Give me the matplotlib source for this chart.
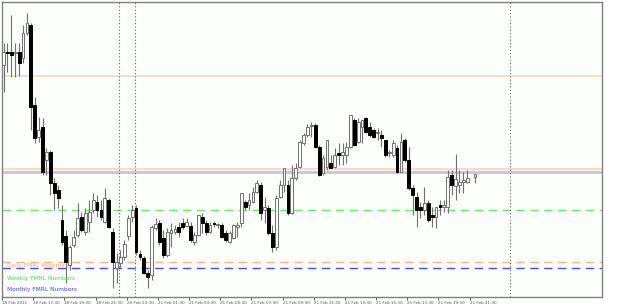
import matplotlib
matplotlib.use("Agg")
import matplotlib.pyplot as plt
from matplotlib.patches import Rectangle

# bar index (one bar missing before the last one)
bars = list(range(120)) + [121]

# OHLC (arbitrary price units)
opens = [235, 248, 248, 247, 248, 242, 267, 275, 195, 163, 173, 140, 148, 117, 110, 80, 64, 35, 55, 65,
         83, 68, 78, 90, 98, 90, 78, 100, 68, 32, 37, 43, 64, 83, 92, 46, 42, 27, 25, 72,
         77, 62, 45, 67, 68, 73, 77, 74, 74, 58, 65, 83, 77, 68, 77, 75, 75, 67, 58, 62,
         73, 77, 98, 95, 98, 108, 115, 90, 92, 67, 53, 103, 115, 115, 87, 122, 133, 157, 165, 174,
         175, 153, 127, 133, 137, 133, 147, 145, 145, 153, 180, 158, 173, 182, 173, 170, 167, 165, 160, 147,
         145, 152, 128, 160, 140, 112, 103, 93, 90, 97, 85, 83, 95, 93, 93, 125, 114, 115, 118, 118,
         123]
highs = [257, 257, 285, 257, 257, 275, 287, 277, 203, 183, 182, 152, 150, 122, 115, 95, 70, 55, 70, 97,
         88, 92, 100, 107, 105, 100, 112, 102, 72, 47, 50, 60, 85, 95, 95, 50, 44, 30, 75, 82,
         80, 70, 72, 77, 75, 78, 82, 82, 78, 68, 85, 87, 80, 78, 79, 77, 77, 70, 69, 76,
         78, 107, 100, 107, 113, 120, 118, 103, 95, 75, 105, 120, 132, 120, 135, 137, 160, 167, 176, 178,
         177, 155, 145, 160, 145, 152, 157, 157, 158, 185, 182, 182, 180, 183, 178, 172, 172, 170, 160, 150,
         160, 155, 167, 162, 153, 115, 108, 98, 113, 100, 93, 93, 100, 100, 130, 130, 146, 130, 128, 130,
         126]
lows = [208, 228, 223, 223, 224, 237, 265, 170, 157, 158, 125, 125, 105, 90, 92, 55, 17, 30, 53, 63,
        68, 65, 68, 87, 83, 80, 77, 72, 12, 17, 33, 40, 60, 78, 45, 40, 26, 12, 20, 70,
        55, 42, 43, 53, 66, 63, 71, 73, 58, 55, 64, 67, 65, 67, 73, 72, 62, 58, 57, 61,
        63, 73, 90, 90, 97, 107, 80, 77, 65, 48, 50, 102, 108, 85, 86, 120, 132, 155, 163, 163,
        152, 124, 125, 130, 132, 132, 135, 135, 137, 152, 154, 157, 157, 167, 163, 162, 160, 153, 143, 143,
        143, 127, 128, 138, 110, 85, 73, 82, 85, 78, 73, 72, 85, 88, 87, 105, 100, 107, 107, 117,
        117]
closes = [248, 247, 245, 248, 237, 267, 277, 193, 162, 170, 128, 148, 117, 107, 102, 58, 38, 53, 63, 82,
          70, 87, 88, 100, 90, 83, 102, 73, 38, 38, 43, 56, 82, 90, 48, 43, 27, 23, 73, 76,
          58, 45, 68, 70, 71, 68, 73, 78, 60, 65, 85, 77, 68, 75, 76.5, 75, 63, 60, 67, 75,
          75, 107, 93, 100, 108, 117, 87, 93, 67, 53, 102, 115, 132, 87, 122, 132, 158, 165, 173, 174,
          153, 125, 142, 160, 132, 145, 145, 148, 153, 185, 155, 178, 180, 168, 165, 163, 167, 162, 145, 147,
          157, 128, 158, 140, 112, 105, 90, 90, 97, 80, 83, 93, 93, 95, 123, 115, 121, 118, 120, 122,
          126]

# indicator levels
levels = [
    (224, '#fbd3c0', '-', 1.2),    # upper daily level
    (131, '#fbd3c0', '-', 1.2),
    (128, '#c8c8c8', '-', 2.0),    # bid line
    (90, '#66ee66', (0, (6, 4)), 1.0),   # weekly
    (38, '#ffb088', (0, (6, 4)), 1.0),   # daily
    (32, '#4848ff', (0, (6, 4)), 1.0),   # monthly
]
separators = [29.74, 33.85, 130.0]

tick_pos = [8 * k - 0.4 for k in range(16)]
tick_labels = ['18 Feb 2011', '18 Feb 17:30', '18 Feb 19:30', '18 Feb 21:30', '20 Feb 23:30',
               '21 Feb 01:30', '21 Feb 03:30', '21 Feb 05:30', '21 Feb 07:30', '21 Feb 09:30',
               '21 Feb 11:30', '21 Feb 13:30', '21 Feb 15:30', '21 Feb 17:30', '21 Feb 19:30',
               '21 Feb 21:30']

fig = plt.figure(figsize=(6.25, 3.07), dpi=100)
fig.patch.set_facecolor('white')
ax = fig.add_axes([2 / 625, 10 / 307, 600 / 625, 295 / 307])
ax.set_facecolor('#fcfefc')

for price, col, ls, lw in levels:
    ax.axhline(price, color=col, linestyle=ls, linewidth=lw, zorder=1)

for s in separators:
    ax.axvline(s, color='#606060', linestyle=(0, (1, 2)), linewidth=0.8, zorder=1)

w = 0.72
for b, o, h, l, c in zip(bars, opens, highs, lows, closes):
    ax.vlines(b, l, h, color='#707070', linewidth=0.8, zorder=2)
    if c >= o:
        ax.add_patch(Rectangle((b - w / 2, o), w, max(c - o, 0.6), facecolor='white',
                               edgecolor='#707070', linewidth=0.7, zorder=3))
    else:
        ax.add_patch(Rectangle((b - w / 2, c), w, o - c, facecolor='black',
                               edgecolor='black', linewidth=0.7, zorder=3))

ax.set_xlim(-0.26, 153.6)
ax.set_ylim(3, 298)

ax.set_xticks(tick_pos)
ax.set_xticklabels(tick_labels, fontsize=3.0, color='#505050', ha='left')
ax.tick_params(axis='x', direction='out', length=2, width=0.6, color='#404040', pad=1)
ax.set_yticks([])
for sp in ax.spines.values():
    sp.set_color('#808080')
    sp.set_linewidth(1.0)

ax.text(0.008, 0.108, 'Daily FMRL Numbers', transform=ax.transAxes, fontsize=4.2,
        color='#f8a880', va='center', ha='left')
ax.text(0.008, 0.064, 'Weekly FMRL Numbers', transform=ax.transAxes, fontsize=4.2,
        color='#44e044', va='center', ha='left')
ax.text(0.008, 0.027, 'Monthly FMRL Numbers', transform=ax.transAxes, fontsize=4.2,
        color='#4444ff', va='center', ha='left')

fig.savefig('out.png', dpi=100)
